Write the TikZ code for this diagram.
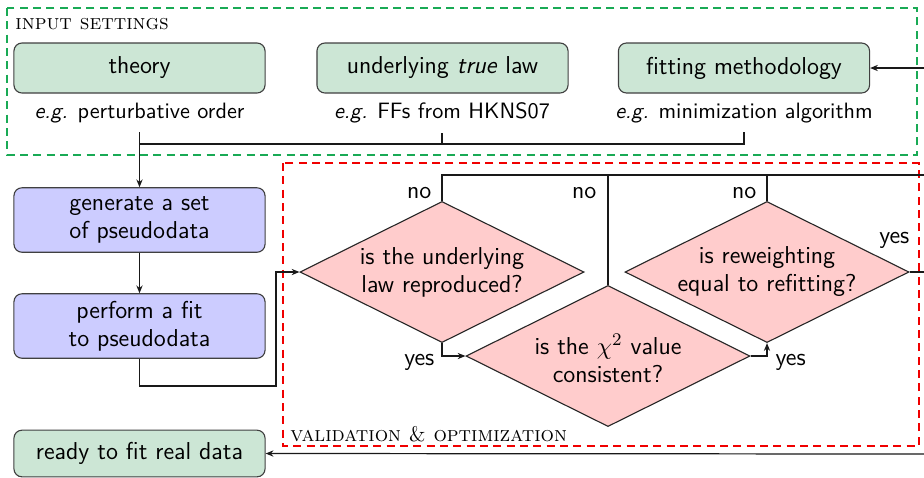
\documentclass[tikz,border=0pt]{standalone}
\usetikzlibrary{arrows.meta,shapes.geometric}

\definecolor{setfill}{RGB}{204,230,213}
\definecolor{setframe}{RGB}{25,170,85}
\definecolor{procfill}{RGB}{204,204,255}
\definecolor{askfill}{RGB}{255,204,204}
\definecolor{valframe}{RGB}{240,0,0}

\newcommand{\mainsize}{\fontsize{11}{12.6}\selectfont}
\newcommand{\notesize}{\fontsize{10}{12}\selectfont}
\newcommand{\headsize}{\fontsize{9.5}{11}\selectfont}

\tikzset{
  setbox/.style={draw=black!75, line width=0.5pt, fill=setfill, rounded corners=3.6pt,
    minimum width=113pt, minimum height=22.5pt, align=center, inner sep=2pt},
  procbox/.style={draw=black!75, line width=0.5pt, fill=procfill, rounded corners=3.6pt,
    minimum width=113pt, minimum height=29pt, align=center, inner sep=2pt},
  askbox/.style={shape=diamond, draw=black!85, line width=0.5pt, fill=askfill,
    minimum width=127.8pt, minimum height=63.5pt, inner sep=0pt},
  asktext/.style={align=center, inner sep=0pt},
  frame/.style={line width=0.9pt, dash pattern=on 3.6pt off 2.4pt},
  link/.style={line width=0.55pt, draw=black!90},
  arrow/.style={link, -{Stealth[length=3.5pt,width=2.8pt]}},
  tag/.style={inner sep=1pt},
  note/.style={inner sep=1pt, font=\sffamily\notesize},
  heading/.style={font=\rmfamily\headsize\scshape, inner sep=0pt}
}

\begin{document}
\begin{tikzpicture}[x=0.45pt, y=-0.45pt, font=\sffamily\mainsize]
  \useasboundingbox (0,0) rectangle (924,477);

  % frames of the two stages
  \draw[frame, setframe] (7,8) rectangle (917,155);
  \draw[frame, valframe] (283,163) rectangle (918.5,446);
  \node[heading, anchor=west] (inhead) at (15,24) {input settings};
  \node[heading, anchor=west] (valhead) at (290,434) {validation \textnormal{\rmfamily\&} optimization};

  % input settings
  \node[setbox] (theory) at (139.5,68) {theory};
  \node[setbox] (law) at (442.5,68) {underlying \textit{true} law};
  \node[setbox] (method) at (744,68) {fitting methodology};
  \node[note] (eg1) at (139.5,113) {\textit{e.g.} perturbative order};
  \node[note] (eg2) at (442,113) {\textit{e.g.} FFs from HKNS07};
  \node[note] (eg3) at (744,113) {\textit{e.g.} minimization algorithm};

  % pseudodata loop
  \node[procbox] (gen) at (139.5,220) {generate a set\\of pseudodata};
  \node[procbox] (fit) at (139.5,326) {perform a fit\\to pseudodata};
  \node[setbox, minimum height=21pt] (ready) at (139.5,453.5) {ready to fit real data};

  % checks
  \node[askbox] (law check) at (442,272) {};
  \node[asktext] at (law check) {is the underlying\\law reproduced?};
  \node[askbox] (chi check) at (608,356) {};
  \node[asktext] at ([yshift=-1.2pt]chi check) {is the $\chi^2$ value\\consistent?};
  \node[askbox] (rw check) at (767,272) {};
  \node[asktext] at (rw check) {is reweighting\\equal to refitting?};

  % junctions and open ends
  \coordinate (j1) at (139.5,132);
  \coordinate (j2) at (442,133);
  \coordinate (j3) at (744,132);
  \coordinate (merge) at (139.5,144);
  \coordinate (fitturn) at (276,386);
  \coordinate (nobus) at (924,175);
  \coordinate (fromright) at (924,68);
  \coordinate (yesout) at (924,272);
  \coordinate (backin) at (924,454);

  % input settings feed the pseudodata generation
  \draw[link] (j1) -- (merge) -| (j3);
  \draw[link] (j2) -- (j2 |- merge);
  \draw[arrow] (merge) -- (gen.north);
  \draw[arrow] (fromright) -- (method.east);

  % fit cycle
  \draw[arrow] (gen.south) -- (fit.north);
  \draw[arrow] (fit.south) |- (fitturn) |- (law check.west);

  % answers
  \draw[link] (law check.north) |- (nobus);
  \draw[link] (chi check.north) -- (chi check.north |- nobus);
  \draw[link] (rw check.north) -- (rw check.north |- nobus);
  \draw[arrow] (law check.south) |- (chi check.west);
  \draw[arrow] (chi check.east) -| (rw check.south);
  \draw[link] (rw check.east) -- (yesout);
  \draw[arrow] (backin) -- (ready.east);

  \node[tag, anchor=east] (no1) at (434,193) {no};
  \node[tag, anchor=east] (no2) at (599,193) {no};
  \node[tag, anchor=east] (no3) at (759,193) {no};
  \node[tag, anchor=east] (yes1) at (437,362) {yes};
  \node[tag, anchor=west] (yes2) at (773,362) {yes};
  \node[tag, anchor=east] (yes3) at (912,240) {yes};
\end{tikzpicture}
\end{document}
